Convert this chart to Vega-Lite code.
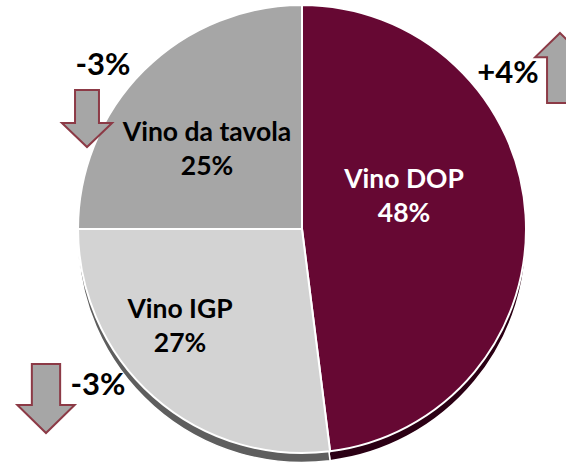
{
  "$schema": "https://vega.github.io/schema/vega-lite/v6.json",
  "width": 566,
  "height": 463,
  "padding": 0,
  "autosize": {"type": "none"},
  "background": "white",
  "config": {"view": {"stroke": null}},
  "datasets": {
    "pie": [
      {"cat": "Vino DOP", "value": 48, "ord": 1},
      {"cat": "Vino IGP", "value": 27, "ord": 2},
      {"cat": "Vino da tavola", "value": 25, "ord": 3}
    ],
    "labels": [
      {"label": "Vino DOP\n48%", "x": 404, "y": 180, "tone": "light"},
      {"label": "Vino IGP\n27%", "x": 180, "y": 310, "tone": "dark"},
      {"label": "Vino da tavola\n25%", "x": 207, "y": 133, "tone": "dark"}
    ],
    "changes": [
      {"label": "-3%", "x": 103, "y": 66},
      {"label": "+4%", "x": 508, "y": 74},
      {"label": "-3%", "x": 98, "y": 386}
    ],
    "arrows": [
      {"id": "down1", "x": 87, "y": 118.5},
      {"id": "down2", "x": 46, "y": 398.5},
      {"id": "up", "x": 560, "y": 68}
    ]
  },
  "layer": [
    {
      "data": {"name": "pie"},
      "mark": {"type": "arc", "radius": 224, "xOffset": 19, "yOffset": 7, "stroke": "white", "strokeWidth": 1.5},
      "encoding": {
        "theta": {"field": "value", "type": "quantitative", "stack": true},
        "order": {"field": "ord", "type": "quantitative"},
        "color": {"field": "cat", "type": "nominal", "legend": null,
          "scale": {"domain": ["Vino DOP", "Vino IGP", "Vino da tavola"], "range": ["#2b0014", "#5e5e5e", "#6e6e6e"]}}
      }
    },
    {
      "data": {"name": "pie"},
      "mark": {"type": "arc", "radius": 224, "xOffset": 19, "yOffset": -2.5, "stroke": "white", "strokeWidth": 2},
      "encoding": {
        "theta": {"field": "value", "type": "quantitative", "stack": true},
        "order": {"field": "ord", "type": "quantitative"},
        "fill": {"field": "cat", "type": "nominal", "legend": null,
          "scale": {"domain": ["Vino DOP", "Vino IGP", "Vino da tavola"], "range": ["#660833", "#d3d3d3", "#a6a6a6"]}}
      }
    },
    {
      "data": {"name": "labels"},
      "mark": {"type": "text", "font": "Lato", "fontWeight": "bold", "fontSize": 26.5, "lineBreak": "\n", "lineHeight": 34, "align": "center", "baseline": "middle"},
      "encoding": {
        "x": {"field": "x", "type": "quantitative", "axis": null, "scale": {"domain": [0, 566], "nice": false, "zero": false}},
        "y": {"field": "y", "type": "quantitative", "axis": null, "scale": {"domain": [0, 463], "nice": false, "zero": false, "reverse": true}},
        "text": {"field": "label"},
        "color": {"field": "tone", "type": "nominal", "legend": null, "scale": {"domain": ["light", "dark"], "range": ["#ffffff", "#000000"]}}
      }
    },
    {
      "data": {"name": "changes"},
      "mark": {"type": "text", "font": "Lato", "fontWeight": "bold", "fontSize": 31, "align": "center", "baseline": "middle", "color": "#000000"},
      "encoding": {
        "x": {"field": "x", "type": "quantitative", "axis": null, "scale": {"domain": [0, 566], "nice": false, "zero": false}},
        "y": {"field": "y", "type": "quantitative", "axis": null, "scale": {"domain": [0, 463], "nice": false, "zero": false, "reverse": true}},
        "text": {"field": "label"}
      }
    },
    {
      "data": {"name": "arrows"},
      "transform": [{"filter": "datum.id === 'down1'"}],
      "mark": {"type": "point", "filled": true, "fill": "#a6a6a6", "stroke": "#8c3a46", "strokeWidth": 2, "opacity": 1, "size": 3249,
        "shape": "M -0.42 -1 L 0.42 -1 L 0.42 0.16 L 0.88 0.16 L 0 1 L -0.88 0.16 L -0.42 0.16 Z"},
      "encoding": {
        "x": {"field": "x", "type": "quantitative", "axis": null, "scale": {"domain": [0, 566], "nice": false, "zero": false}},
        "y": {"field": "y", "type": "quantitative", "axis": null, "scale": {"domain": [0, 463], "nice": false, "zero": false, "reverse": true}}
      }
    },
    {
      "data": {"name": "arrows"},
      "transform": [{"filter": "datum.id === 'down2'"}],
      "mark": {"type": "point", "filled": true, "fill": "#a6a6a6", "stroke": "#8c3a46", "strokeWidth": 2, "opacity": 1, "size": 4761,
        "shape": "M -0.41 -1 L 0.41 -1 L 0.41 0.19 L 0.83 0.19 L 0 1 L -0.83 0.19 L -0.41 0.19 Z"},
      "encoding": {
        "x": {"field": "x", "type": "quantitative", "axis": null, "scale": {"domain": [0, 566], "nice": false, "zero": false}},
        "y": {"field": "y", "type": "quantitative", "axis": null, "scale": {"domain": [0, 463], "nice": false, "zero": false, "reverse": true}}
      }
    },
    {
      "data": {"name": "arrows"},
      "transform": [{"filter": "datum.id === 'up'"}],
      "mark": {"type": "point", "filled": true, "fill": "#a6a6a6", "stroke": "#8c3a46", "strokeWidth": 2, "opacity": 1, "size": 4900,
        "shape": "M 0 -1 L 0.71 -0.31 L 0.37 -0.31 L 0.37 1 L -0.37 1 L -0.37 -0.31 L -0.71 -0.31 Z"},
      "encoding": {
        "x": {"field": "x", "type": "quantitative", "axis": null, "scale": {"domain": [0, 566], "nice": false, "zero": false}},
        "y": {"field": "y", "type": "quantitative", "axis": null, "scale": {"domain": [0, 463], "nice": false, "zero": false, "reverse": true}}
      }
    }
  ],
  "resolve": {"scale": {"color": "independent"}}
}
